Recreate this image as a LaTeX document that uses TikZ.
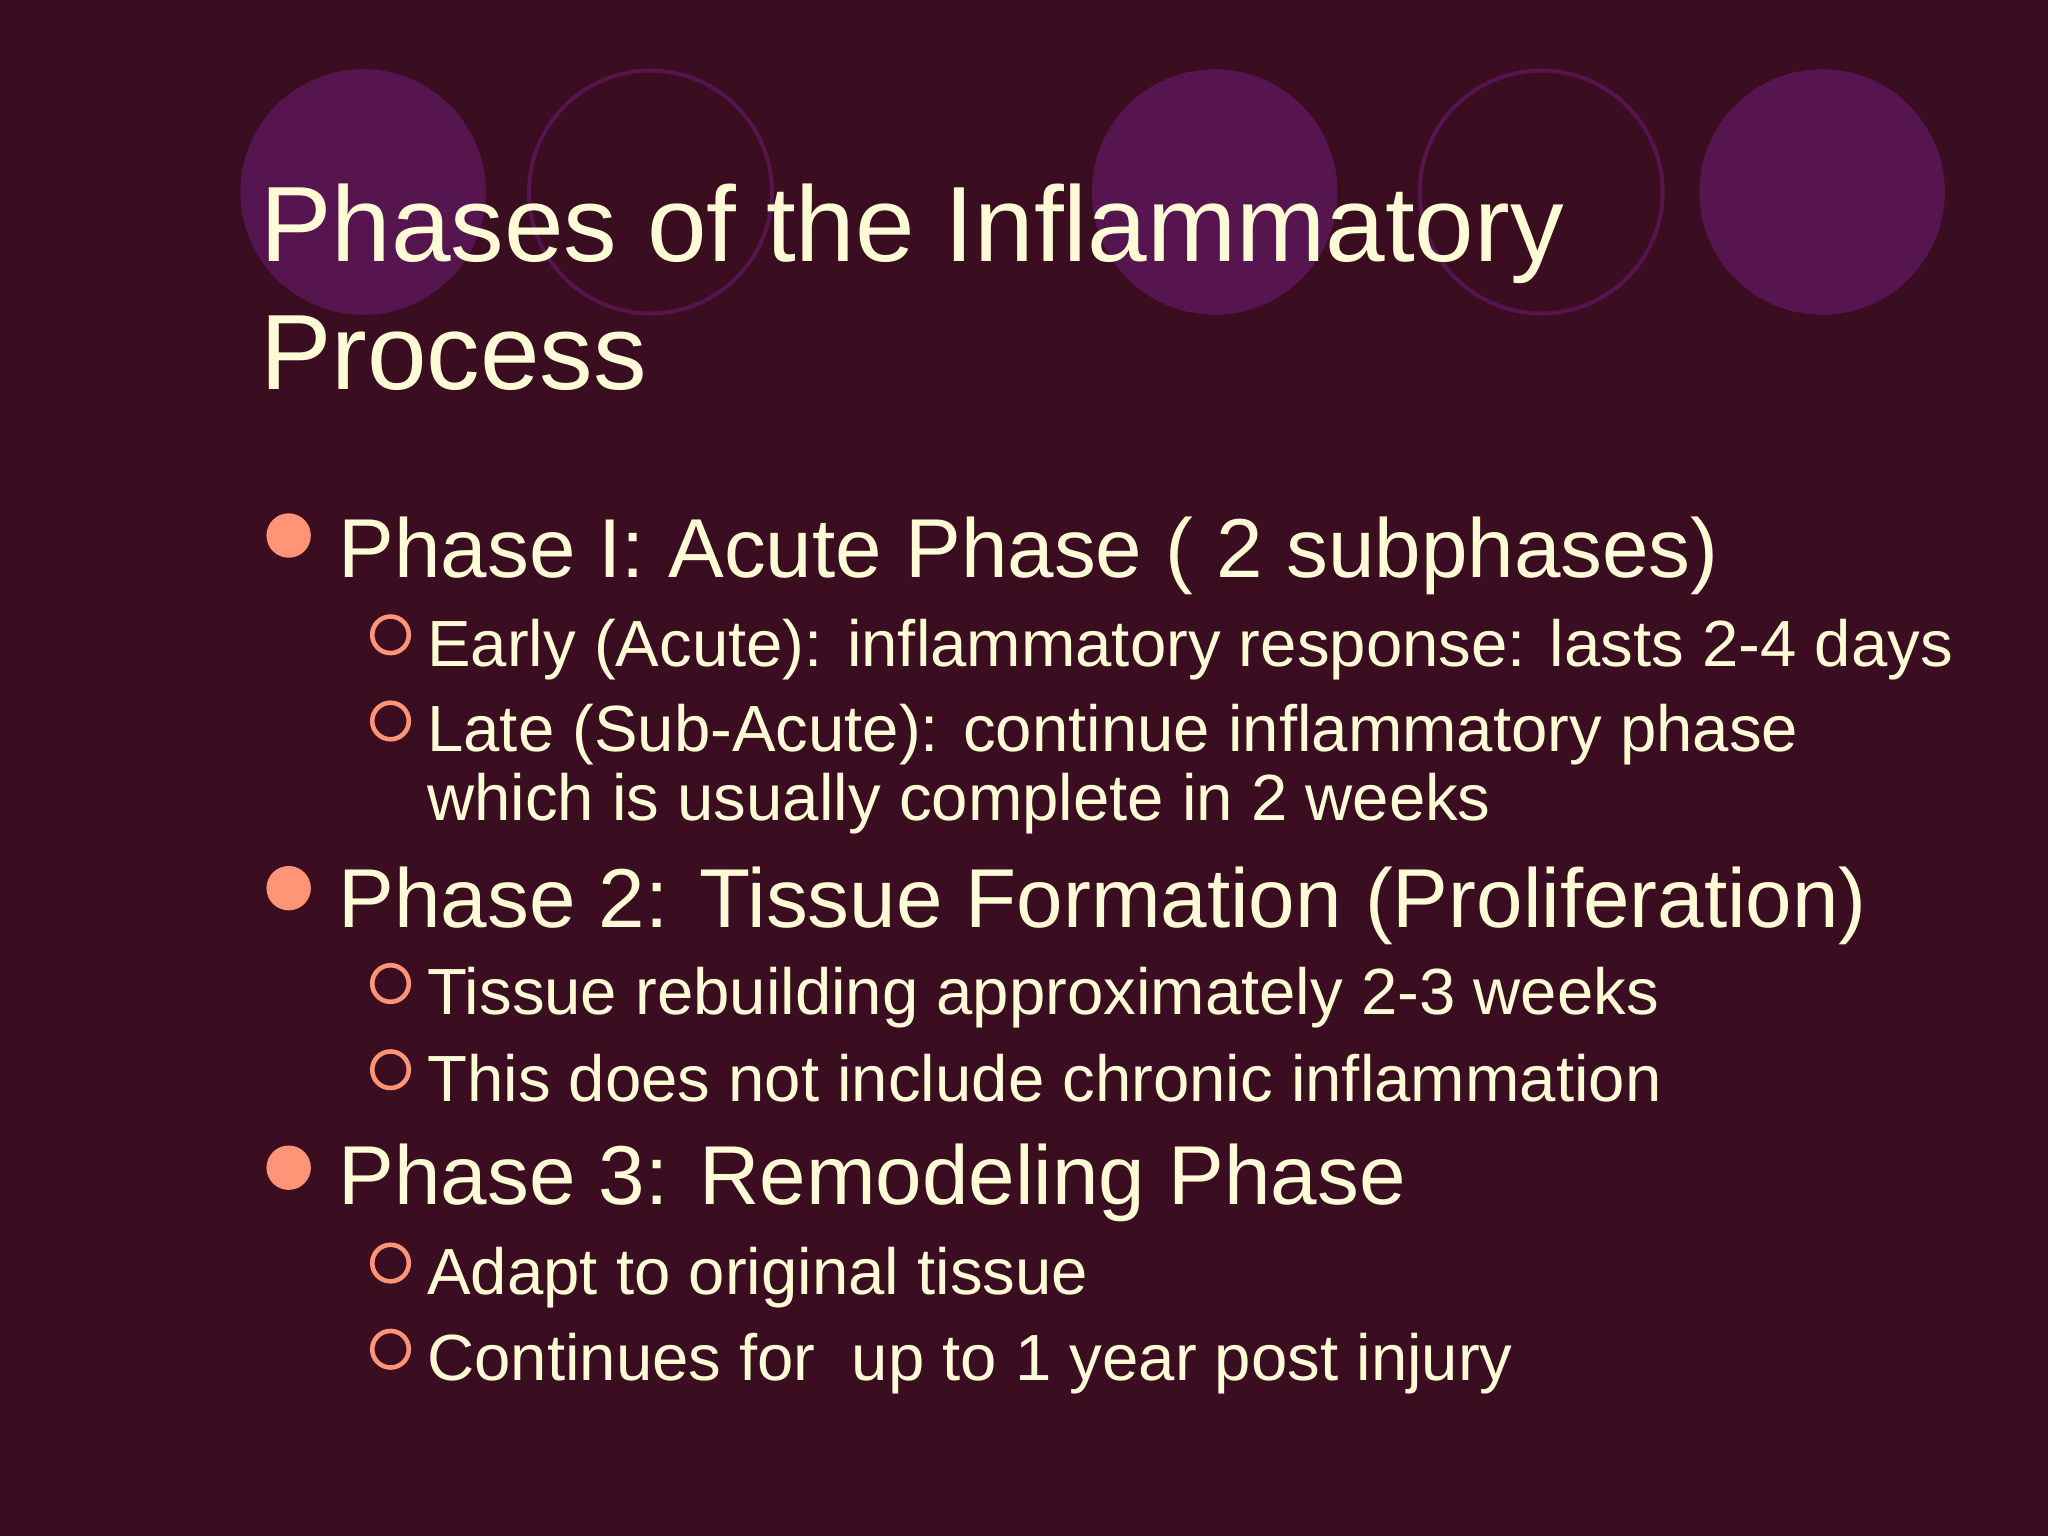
\documentclass[tikz,border=0pt]{standalone}
\usepackage{fontspec}
\setmainfont{Liberation Sans}
\definecolor{bg}{HTML}{3A0D20}
\definecolor{circ}{HTML}{57154F}
\definecolor{cream}{HTML}{FFFBD6}
\definecolor{salmon}{HTML}{FF9476}
\tikzset{
  ttl/.style={anchor=base west,inner sep=0,text=cream,font=\fontsize{82}{90}\selectfont},
  lone/.style={anchor=base west,inner sep=0,text=cream,font=\fontsize{64}{70}\selectfont},
  ltwo/.style={anchor=base west,inner sep=0,text=cream,font=\fontsize{50}{56}\selectfont},
  dotb/.style={circle,fill=salmon,minimum size=34pt,inner sep=0},
  ringb/.style={circle,draw=salmon,line width=3.5pt,minimum size=28pt,inner sep=0},
}
\begin{document}
\begin{tikzpicture}[x=1pt,y=-1pt]
\fill[bg] (0,0) rectangle (1568,1176);
\useasboundingbox (0,0) rectangle (1568,1176);
\fill[circ] (278,147) circle (94);
\draw[circ,line width=3pt] (498,147) circle (93);
\fill[circ] (930,147) circle (94);
\draw[circ,line width=3pt] (1180,147) circle (93);
\fill[circ] (1395,147) circle (94);
\node[ttl] (t1) at (199,200) {Phases of the Inflammatory};
\node[ttl] (t2) at (199,298) {Process};
\node[dotb] (b1) at (221,410) {};
\node[lone] (p1) at (259,442) {Phase I: Acute Phase ( 2 subphases)};
\node[ringb] (r1) at (299,486) {};
\node[ltwo] (s1) at (327,510) {Early (Acute): inflammatory response: lasts 2-4 days};
\node[ringb] (r2) at (299,552) {};
\node[ltwo] (s2) at (327,575) {Late (Sub-Acute): continue inflammatory phase};
\node[ltwo] (s2b) at (327,628) {which is usually complete in 2 weeks};
\node[dotb] (b2) at (221,680) {};
\node[lone] (p2) at (259,710) {Phase 2: Tissue Formation (Proliferation)};
\node[ringb] (r3) at (299,753) {};
\node[ltwo] (s3) at (327,777) {Tissue rebuilding approximately 2-3 weeks};
\node[ringb] (r4) at (299,819) {};
\node[ltwo] (s4) at (327,843) {This does not include chronic inflammation};
\node[dotb] (b3) at (221,894) {};
\node[lone] (p3) at (259,922) {Phase 3: Remodeling Phase};
\node[ringb] (r5) at (299,967) {};
\node[ltwo] (s5) at (327,991) {Adapt to original tissue};
\node[ringb] (r6) at (299,1033) {};
\node[ltwo] (s6) at (327,1057) {Continues for\ \ up to 1 year post injury};
\end{tikzpicture}
\end{document}
